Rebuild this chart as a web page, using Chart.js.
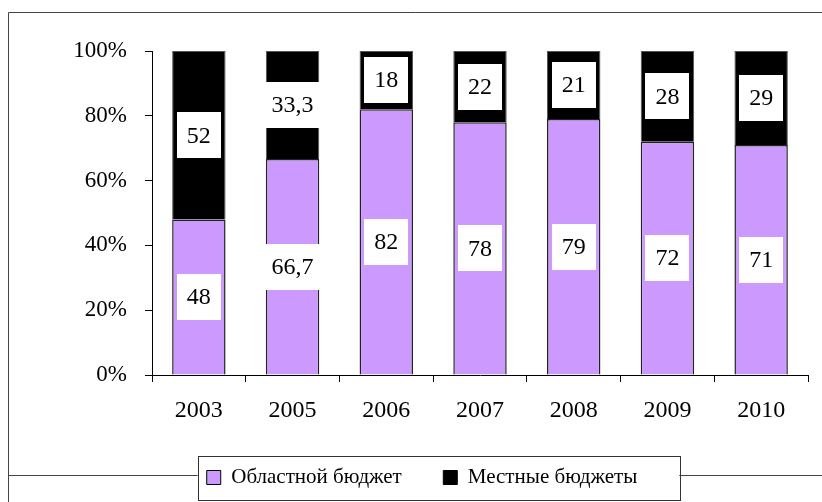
<!DOCTYPE html>
<html>
<head>
<meta charset="utf-8">
<script src="https://cdn.jsdelivr.net/npm/chart.js@4/dist/chart.umd.min.js"></script>
<style>
  html, body { margin: 0; padding: 0; background: #fff; }
  #wrap { width: 822px; height: 502px; }
  #probe { font-family: 'Liberation Serif'; position: absolute; left: -999px; top: 0; }
</style>
</head>
<body>
<div id="probe">Областной 0123456789%</div>
<div id="wrap"><canvas id="myChart" width="822" height="502"></canvas></div>
<script>
var years = ['2003', '2005', '2006', '2007', '2008', '2009', '2010'];
var regional = [48, 66.7, 82, 78, 79, 72, 71];   // Областной бюджет
var local = [52, 33.3, 18, 22, 21, 28, 29];      // Местные бюджеты
var yTicks = [0, 20, 40, 60, 80, 100];

var serif = 'Liberation Serif';

// white boxes with the values, centred on each segment
var valueBoxes = {
    id: 'valueBoxes',
    afterDatasetsDraw: function (chart) {
        var ctx = chart.ctx;
        ctx.save();
        ctx.font = '24px "Liberation Serif"';
        ctx.textAlign = 'center';
        ctx.textBaseline = 'middle';
        chart.data.datasets.forEach(function (ds, di) {
            chart.getDatasetMeta(di).data.forEach(function (bar, i) {
                var txt = String(ds.data[i]).replace('.', ',');
                var cy = (bar.y + bar.base) / 2;
                var w = ctx.measureText(txt).width + 20;
                var h = 46;
                ctx.fillStyle = '#fff';
                ctx.fillRect(Math.round(bar.x - w / 2), Math.round(cy - h / 2), Math.round(w), h);
                ctx.fillStyle = '#000';
                ctx.fillText(txt, bar.x, cy + 1);
            });
        });
        ctx.restore();
    }
};

// outer frame, line through the legend and legend box
var frame = {
    id: 'frame',
    beforeDraw: function (chart) {
        var ctx = chart.ctx;
        var boxes = chart.legend.legendHitBoxes;
        var first = boxes[0], last = boxes[boxes.length - 1];
        var bx = first.left - 9, bx2 = last.left + last.width + 42;
        var my = first.top + first.height / 2;
        var by = my - 22, by2 = my + 22;
        ctx.save();
        ctx.strokeStyle = '#444';
        ctx.lineWidth = 1;
        ctx.beginPath();
        ctx.moveTo(8.5, chart.height);
        ctx.lineTo(8.5, 12.5);
        ctx.lineTo(chart.width, 12.5);
        var ly = Math.round(my) - 2.5;
        ctx.moveTo(8.5, ly);
        ctx.lineTo(chart.width, ly);
        ctx.stroke();
        ctx.fillStyle = '#fff';
        ctx.fillRect(bx, by, bx2 - bx, by2 - by);
        ctx.strokeStyle = '#333';
        ctx.strokeRect(Math.round(bx) + 0.5, Math.round(by) + 0.5, Math.round(bx2 - bx), Math.round(by2 - by));
        ctx.restore();
    }
};

function draw() {
    new Chart(document.getElementById('myChart').getContext('2d'), {
        type: 'bar',
        data: {
            labels: years,
            datasets: [{
                label: 'Областной бюджет',
                data: regional,
                backgroundColor: '#CC99FF',
                borderColor: '#222',
                borderWidth: 1.5
            }, {
                label: 'Местные бюджеты',
                data: local,
                backgroundColor: '#000',
                borderColor: '#555',
                borderWidth: 1
            }]
        },
        options: {
            responsive: false,
            animation: false,
            events: [],
            layout: { padding: { left: 36, right: 14, top: 51, bottom: 4 } },
            datasets: {
                bar: { categoryPercentage: 1, barPercentage: 0.57 }
            },
            scales: {
                x: {
                    stacked: true,
                    grid: { drawOnChartArea: false, tickLength: 7, color: '#000', offset: true },
                    border: { color: '#000', width: 1 },
                    ticks: { color: '#000', padding: 14, font: { family: serif, size: 24 } },
                    afterFit: function (s) { s.height = 82; }
                },
                y: {
                    stacked: true,
                    min: 0,
                    max: 100,
                    afterBuildTicks: function (s) { s.ticks = yTicks.map(function (v) { return { value: v }; }); },
                    grid: { drawOnChartArea: false, tickLength: 7, color: '#000' },
                    border: { color: '#000', width: 1 },
                    ticks: {
                        color: '#000',
                        padding: 18,
                        font: { family: serif, size: 23 },
                        callback: function (v) { return v + '%'; }
                    },
                    afterFit: function (s) { s.width = 116; }
                }
            },
            plugins: {
                tooltip: { enabled: false },
                legend: {
                    position: 'bottom',
                    labels: {
                        color: '#000',
                        boxWidth: 14,
                        boxHeight: 14,
                        padding: 10,
                        font: { family: serif, size: 21 },
                        generateLabels: function (chart) {
                            var n = chart.data.datasets.length;
                            return chart.data.datasets.map(function (ds, i) {
                                return {
                                    text: ds.label + (i < n - 1 ? '      ' : ''),
                                    fillStyle: ds.backgroundColor,
                                    strokeStyle: '#000',
                                    lineWidth: 1,
                                    datasetIndex: i
                                };
                            });
                        }
                    }
                }
            }
        },
        plugins: [frame, valueBoxes]
    });
}

if (document.fonts && document.fonts.load) {
    Promise.all([
        document.fonts.load('24px "Liberation Serif"', 'Областной 0123456789%'),
        document.fonts.ready
    ]).then(draw, draw);
} else {
    draw();
}
</script>
</body>
</html>
